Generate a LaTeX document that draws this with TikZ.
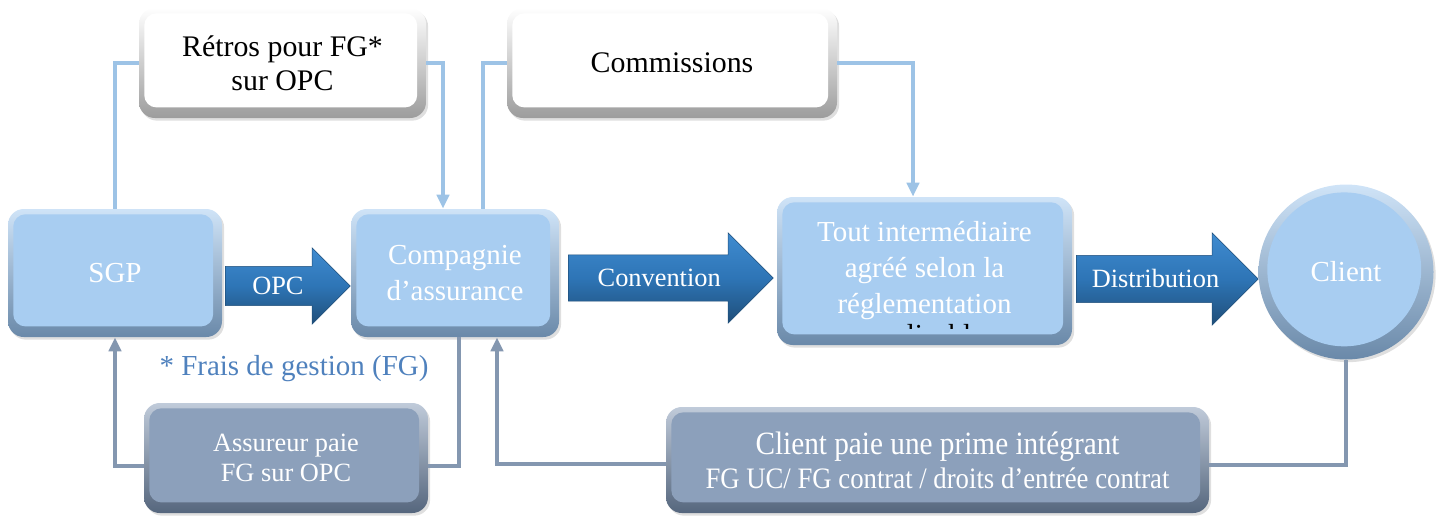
\documentclass[tikz,border=0pt]{standalone}
\usepackage{fontspec}
\setmainfont{Liberation Serif}
\newfontfamily\narrowserif[FakeStretch=0.9]{Liberation Serif}
\usepackage{tikz}
\usetikzlibrary{arrows.meta, shapes.arrows, shadows}

\definecolor{faceblue}{HTML}{A8CDF1}
\definecolor{rimblue}{HTML}{6A89A9}
\definecolor{faceslate}{HTML}{8CA0BB}
\definecolor{rimslate}{HTML}{55667D}
\definecolor{rimgrey}{HTML}{9C9C9C}
\definecolor{arrowblue}{HTML}{2E75B6}
\definecolor{arrowlight}{HTML}{3F8BD0}
\definecolor{arrowdark}{HTML}{1F4E79}
\definecolor{skyline}{HTML}{9DC3E6}
\definecolor{slateline}{HTML}{8497B0}
\definecolor{fraisblue}{HTML}{4F81BD}

\tikzset{
  bevelbox/.style 2 args={rectangle, rounded corners=9pt, top color=#1!55!white, bottom color=#2,
    drop shadow={shadow xshift=1.2pt, shadow yshift=-1.5pt, opacity=0.25},
    path picture={\fill[#1, rounded corners=7pt] ([shift={(3pt,-3pt)}]path picture bounding box.north west) rectangle ([shift={(-5pt,6pt)}]path picture bounding box.south east);},
    align=center, inner sep=2pt},
  mainbox/.style={bevelbox={faceblue}{rimblue}, text=white, font=\fontsize{16.5}{20.5}\selectfont},
  notebox/.style={bevelbox={white}{rimgrey}, text=black, font=\fontsize{17}{19.5}\selectfont},
  paybox/.style={bevelbox={faceslate}{rimslate}, text=white, font=\fontsize{15}{17}\selectfont},
  clientball/.style={circle, top color=faceblue!55!white, bottom color=rimblue,
    drop shadow={shadow xshift=1.2pt, shadow yshift=-1.5pt, opacity=0.25},
    path picture={\fill[faceblue] ([shift={(-1pt,1.5pt)}]path picture bounding box.center) circle [radius=1.75cm-6pt];},
    text=white, font=\fontsize{16.5}{20.5}\selectfont, inner sep=0pt},
  flowarrow/.style={single arrow, anchor=tail, inner xsep=0pt, inner ysep=0pt, text=white,
    font=\fontsize{15}{18}\selectfont, top color=arrowlight, bottom color=arrowdark, middle color=arrowblue,
    draw=arrowdark, line width=0.3pt},
  skylink/.style={draw=skyline, line width=2pt},
  slatelink/.style={draw=slateline, line width=2pt},
  linktip/.style={-{Triangle[width=7pt,length=8pt]}}
}

\begin{document}
\begin{tikzpicture}
\useasboundingbox (0,0) rectangle (28.84,-10.3);

\node[mainbox, minimum width=4.28cm, minimum height=2.56cm] (sgp) at (2.30,-5.46) {SGP};
\node[mainbox, minimum width=4.16cm, minimum height=2.56cm] (comp) at (9.10,-5.46) {Compagnie\\d’assurance};
\node[mainbox, minimum width=5.90cm, minimum height=2.96cm] (tout) at (18.49,-5.42) {Tout intermédiaire\\agréé selon la\\réglementation};
\node[clientball, minimum size=3.5cm] (client) at (26.92,-5.44) {Client};

\begin{scope}
\clip (17,-6.40) rectangle (20,-6.57);
\node[font=\fontsize{16.5}{20.5}\selectfont, anchor=base] (applic) at (18.49,-6.88) {applicable};
\end{scope}

\node[notebox, minimum width=5.74cm, minimum height=2.20cm] (retros) at (5.65,-1.26) {Rétros pour FG*\\sur OPC};
\node[notebox, minimum width=6.60cm, minimum height=2.20cm] (commissions) at (13.44,-1.26) {Commissions};

\node[paybox, minimum width=5.68cm, minimum height=2.20cm] (assureur) at (5.72,-9.16) {Assureur paie\\FG sur OPC};
\node[paybox, minimum width=10.86cm, minimum height=2.12cm, font=\narrowserif\fontsize{18.5}{19.5}\selectfont] (clientpaie) at (18.75,-9.20) {Client paie une prime intégrant\\{\fontsize{16.9}{19.5}\selectfont FG UC/ FG contrat / droits d’entrée contrat}};

\node[text=fraisblue, font=\fontsize{16.5}{19}\selectfont] (frais) at (5.88,-7.38) {* Frais de gestion (FG)};

\node[flowarrow, minimum height=2.5cm, single arrow head extend=0.37cm, text height=16.06pt, text depth=6.06pt] (opc) at (4.50,-5.72) {OPC};
\node[flowarrow, minimum height=4.10cm, single arrow head extend=0.44cm, text height=18.04pt, text depth=8.04pt] (convention) at (11.36,-5.56) {Convention};
\node[flowarrow, minimum height=3.64cm, single arrow head extend=0.45cm, text height=18.3pt, text depth=8.3pt] (distribution) at (21.52,-5.58) {Distribution};

\draw[skylink] (sgp.north) |- (retros.west);
\draw[skylink, linktip] (retros.east) -| ([xshift=-0.24cm]comp.north);
\draw[skylink] ([xshift=0.56cm]comp.north) |- (commissions.west);
\draw[skylink, linktip] (commissions.east) -| ([xshift=-0.23cm]tout.north);

\draw[slatelink, linktip] ([yshift=-0.16cm]assureur.west) -| (sgp.south);
\draw[slatelink] ([yshift=-0.16cm]assureur.east) -| ([xshift=0.08cm]comp.south);
\draw[slatelink, linktip] ([yshift=-0.08cm]clientpaie.west) -| ([xshift=0.84cm]comp.south);
\draw[slatelink] (client.south) |- ([yshift=-0.1cm]clientpaie.east);
\end{tikzpicture}
\end{document}
